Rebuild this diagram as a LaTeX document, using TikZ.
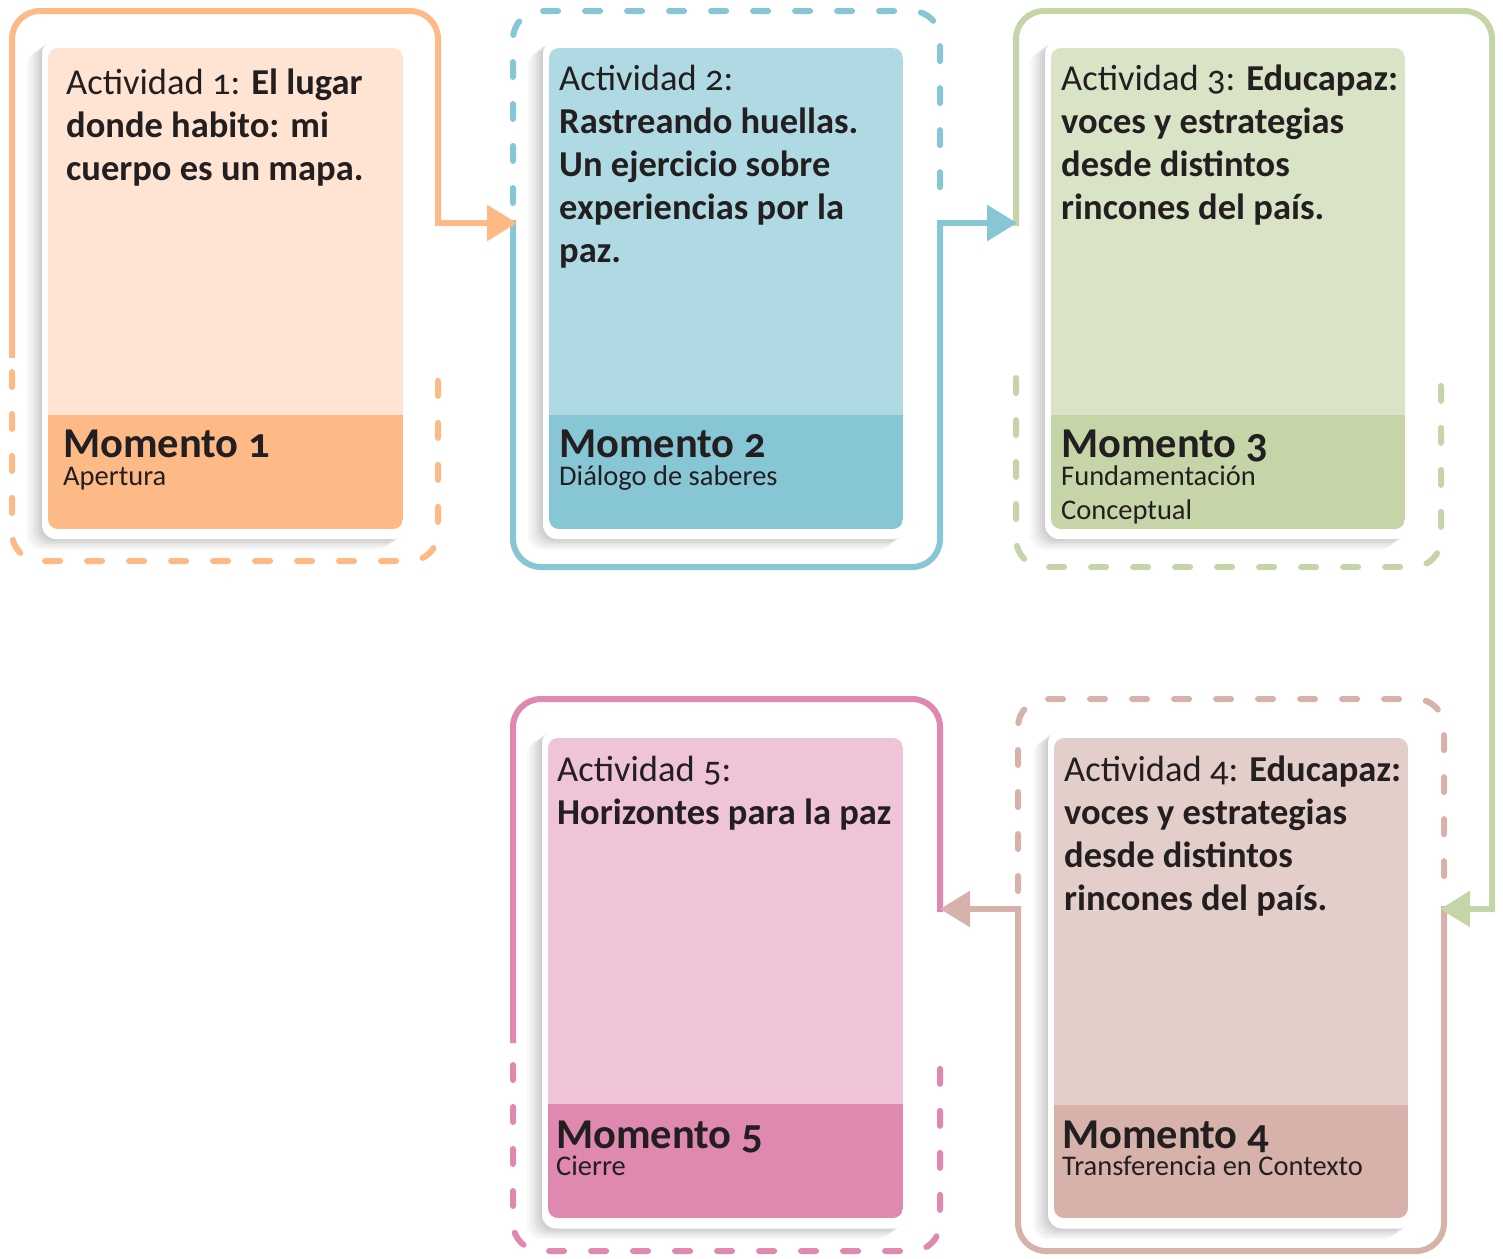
\documentclass[tikz,border=0pt]{standalone}
\usepackage{fontspec}
\setmainfont{Carlito}[Numbers=OldStyle]
\usetikzlibrary{arrows.meta,shadows}

\definecolor{tinta}{HTML}{231F20}
\definecolor{naranja}{HTML}{FDBA87}
\definecolor{naranjaclaro}{HTML}{FFE4D4}
\definecolor{azul}{HTML}{86C6D5}
\definecolor{azulclaro}{HTML}{B0DAE3}
\definecolor{verde}{HTML}{C5D5A8}
\definecolor{verdeclaro}{HTML}{D9E3C6}
\definecolor{rosa}{HTML}{D6B2AA}
\definecolor{rosaclaro}{HTML}{E4CEC9}
\definecolor{fucsia}{HTML}{DF88B0}
\definecolor{fucsiaclaro}{HTML}{F0C4D8}

\begin{document}
\begin{tikzpicture}[x=1pt,y=-1pt,
    marco/.style={line width=6pt,rounded corners=28pt},
    solido/.style={marco,line cap=rect},
    punteado/.style={marco,line cap=round,dash pattern=on 15pt off 27pt},
    flecha/.style={line width=6pt,-{Triangle[length=30pt,width=35pt]}},
    sombra/.style={drop shadow={shadow xshift=-#1pt,shadow yshift=-0.7*#1pt,opacity=.03,fill=black}},
    tarjeta/.style={fill=white,rounded corners=14pt,minimum width=365pt,minimum height=499pt,
      sombra=1,sombra=3,sombra=5,sombra=7,sombra=9,sombra=12,sombra=15},
    actividad/.style={anchor=base west,align=left,inner sep=0pt,text=tinta,font=\fontsize{36.5}{43}\selectfont},
    momento/.style={anchor=base west,inner sep=0pt,text=tinta,font=\fontsize{42.5}{48}\selectfont\bfseries},
    fase/.style={anchor=base west,align=left,inner sep=0pt,text=tinta,font=\fontsize{28.5}{34}\selectfont}]
  \useasboundingbox (0,0) rectangle (1503,1258);

  % puntos de paso
  \coordinate (s1) at (438,223);
  \coordinate (e2) at (517,223);
  \coordinate (s2) at (940,223);
  \coordinate (e3) at (1017,223);
  \coordinate (s3) at (1492,909);
  \coordinate (e4) at (1440,909);
  \coordinate (s4) at (1018,909);
  \coordinate (e5) at (940,909);

  % marcos
  \draw[solido,naranja] (12,355) |- (438,11) -- (s1);
  \draw[punteado,naranja] (12,372) |- (438,561) -- (438,372);
  \draw[punteado,azul] (513,203) |- (940,11) -- (940,203);
  \draw[solido,azul] (513,223) |- (940,567) -- (s2);
  \draw[solido,verde] (1016,223) |- (1492,11) -- (s3);
  \draw[punteado,verde] (1016,378) |- (1441,567) -- (1441,378);
  \draw[punteado,rosa] (1018,891) |- (1444,699) -- (1444,891);
  \draw[solido,rosa] (1444,909) |- (1018,1251) -- (s4);
  \draw[solido,fucsia] (513,1040) |- (940,699) -- (e5);
  \draw[punteado,fucsia] (513,1065) |- (940,1251) -- (940,1065);

  % flechas
  \draw[flecha,naranja] (s1) -- (e2);
  \draw[flecha,azul] (s2) -- (e3);
  \draw[flecha,verde] (s3) -- (e4);
  \draw[flecha,rosa] (s4) -- (e5);

  % tarjetas
  \node[tarjeta] (tarjeta1) at (224.5,289.5) {};
  \node[tarjeta] (tarjeta2) at (725.5,289.5) {};
  \node[tarjeta] (tarjeta3) at (1227.5,289.5) {};
  \node[tarjeta] (tarjeta4) at (1230.5,979) {};
  \node[tarjeta] (tarjeta5) at (724.5,979) {};

  \begin{scope}
    \clip[rounded corners=10pt] (48,48) rectangle (403,529);
    \fill[naranjaclaro] (48,48) rectangle (403,415);
    \fill[naranja] (48,415) rectangle (403,529);
  \end{scope}
  \begin{scope}
    \clip[rounded corners=10pt] (549,48) rectangle (903,529);
    \fill[azulclaro] (549,48) rectangle (903,415);
    \fill[azul] (549,415) rectangle (903,529);
  \end{scope}
  \begin{scope}
    \clip[rounded corners=10pt] (1051,48) rectangle (1405,529);
    \fill[verdeclaro] (1051,48) rectangle (1405,415);
    \fill[verde] (1051,415) rectangle (1405,529);
  \end{scope}
  \begin{scope}
    \clip[rounded corners=10pt] (1054,738) rectangle (1408,1218);
    \fill[rosaclaro] (1054,738) rectangle (1408,1105);
    \fill[rosa] (1054,1105) rectangle (1408,1218);
  \end{scope}
  \begin{scope}
    \clip[rounded corners=10pt] (548,738) rectangle (903,1218);
    \fill[fucsiaclaro] (548,738) rectangle (903,1104);
    \fill[fucsia] (548,1104) rectangle (903,1218);
  \end{scope}

  % textos (base = ultima linea)
  \node[actividad] (act1) at (66,180) {Actividad 1: \textbf{El lugar}\\\textbf{donde habito: mi}\\\textbf{cuerpo es un mapa.}};
  \node[actividad] (act2) at (559,262) {Actividad 2:\\\textbf{Rastreando huellas.}\\\textbf{Un ejercicio sobre}\\\textbf{experiencias por la}\\\textbf{paz.}};
  \node[actividad] (act3) at (1061,219) {Actividad 3: \textbf{Educapaz:}\\\textbf{voces y estrategias}\\\textbf{desde distintos}\\\textbf{rincones del país.}};
  \node[actividad] (act4) at (1064,910) {Actividad 4: \textbf{Educapaz:}\\\textbf{voces y estrategias}\\\textbf{desde distintos}\\\textbf{rincones del país.}};
  \node[actividad] (act5) at (557,824) {Actividad 5:\\\textbf{Horizontes para la paz}};

  \node[momento] (mom1) at (63,457) {Momento 1};
  \node[fase] (fase1) at (63,485) {Apertura};
  \node[momento] (mom2) at (559,457) {Momento 2};
  \node[fase] (fase2) at (559,485) {Diálogo de saberes};
  \node[momento] (mom3) at (1061,457) {Momento 3};
  \node[fase] (fase3) at (1061,519) {Fundamentación\\Conceptual};
  \node[momento] (mom4) at (1062,1148) {Momento 4};
  \node[fase] (fase4) at (1062,1175) {Transferencia en Contexto};
  \node[momento] (mom5) at (556,1148) {Momento 5};
  \node[fase] (fase5) at (556,1175) {Cierre};
\end{tikzpicture}
\end{document}
